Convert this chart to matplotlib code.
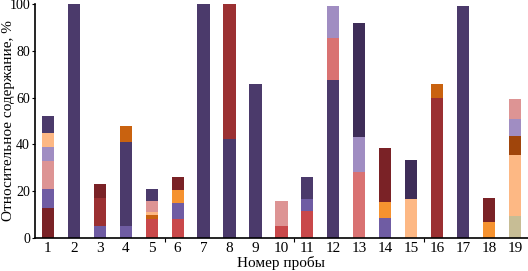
import matplotlib.pyplot as plt
import numpy as np

plt.rcParams['font.family'] = ['Liberation Serif', 'DejaVu Serif']

# sample numbers
samples = list(range(1, 20))

# colours of the components
c_dpurple = '#4b3a6b'
c_vdpurple = '#3e2d58'
c_purple = '#6f5ca3'
c_lav = '#a08dc2'
c_dred = '#7a2226'
c_rbrown = '#9b3032'
c_red = '#c9484a'
c_salmon = '#d97272'
c_pink = '#dd9494'
c_lorange = '#fdb884'
c_orange = '#f5922f'
c_dorange = '#c9620f'
c_brown = '#a0450b'
c_khaki = '#c7bd95'

# stacked segments for each sample, bottom to top: (value %, colour)
stacks = {
    1: [(13, c_dred), (8, c_purple), (12, c_pink), (6, c_lav), (6, c_lorange), (7, c_dpurple)],
    2: [(100, c_dpurple)],
    3: [(5, c_purple), (12, c_rbrown), (6, c_dred)],
    4: [(5, c_purple), (36, c_dpurple), (7, c_dorange)],
    5: [(8, c_red), (2, c_dorange), (1, c_lorange), (5, c_pink), (5, c_dpurple)],
    6: [(8, c_red), (7, c_purple), (5.5, c_orange), (5.5, c_dred)],
    7: [(100, c_dpurple)],
    8: [(42.5, c_dpurple), (57.5, c_rbrown)],
    9: [(66, c_dpurple)],
    10: [(5, c_red), (11, c_pink)],
    11: [(11.5, c_red), (5, c_purple), (9.5, c_dpurple)],
    12: [(67.5, c_dpurple), (18, c_salmon), (13.5, c_lav)],
    13: [(28, c_salmon), (15, c_lav), (49, c_vdpurple)],
    14: [(8.5, c_purple), (7, c_orange), (23, c_dred)],
    15: [(16.5, c_lorange), (17, c_vdpurple)],
    16: [(60, c_rbrown), (6, c_dorange)],
    17: [(99, c_dpurple)],
    18: [(7, c_orange), (10, c_dred)],
    19: [(9.5, c_khaki), (26, c_lorange), (8, c_brown), (7.5, c_lav), (8.5, c_pink)],
}

yticks = [0, 20, 40, 60, 80, 100]

fig = plt.figure(figsize=(5.28, 2.71), dpi=100)
ax = fig.add_axes([0.066, 0.122, 0.934, 0.863])

for s in samples:
    bottom = 0
    for val, col in stacks[s]:
        ax.bar(s, val, bottom=bottom, width=0.47, color=col, linewidth=0)
        bottom += val

ax.set_xlim(0.5, 19.5)
ax.set_ylim(0, 100)
ax.set_xticks(samples)
ax.set_xticks([5.5, 10.5, 15.5], minor=True)
ax.set_yticks(yticks)
ax.tick_params(axis='x', which='major', length=0, labelsize=11, pad=3)
ax.tick_params(axis='x', which='minor', length=3, width=0.8, direction='out')
ax.tick_params(axis='y', length=2.5, width=0.8, labelsize=10, pad=1)

for side in ['top', 'right']:
    ax.spines[side].set_visible(False)
for side in ['left', 'bottom']:
    ax.spines[side].set_linewidth(1.2)

ax.set_xlabel('Номер пробы', fontsize=11, labelpad=1)
fig.text(0.017, 0.555, 'Относительное содержание, %', rotation=90,
         ha='center', va='center', fontsize=11)

fig.savefig('out.png', dpi=100)
